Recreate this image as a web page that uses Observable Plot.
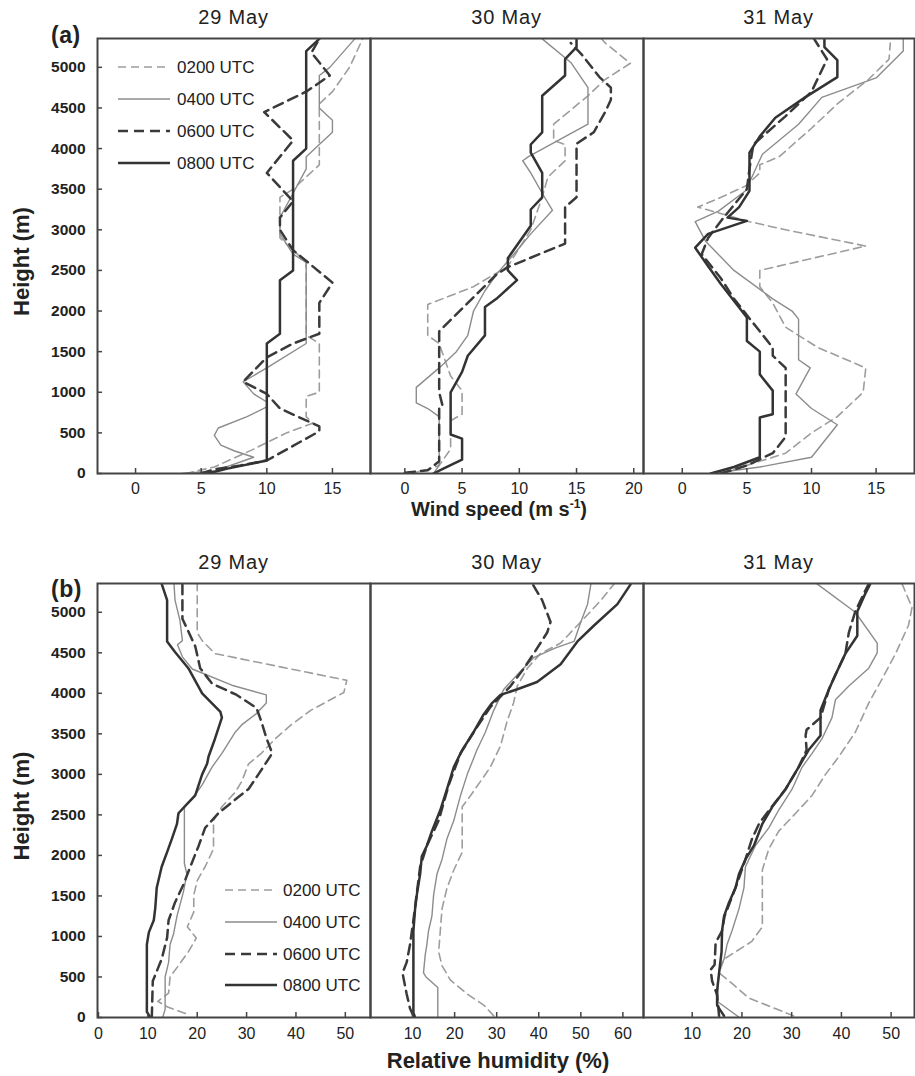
<!DOCTYPE html>
<html>
<head>
<meta charset="utf-8">
<script src="https://cdn.jsdelivr.net/npm/d3@7"></script>
<script src="https://cdn.jsdelivr.net/npm/@observablehq/plot@0.6"></script>
<style>
  body { margin: 0; background: #fff; }
  #wrap { position: relative; width: 915px; height: 1076px; background: #fff;
          font-family: "Liberation Sans", Arial, sans-serif; overflow: hidden; }
</style>
</head>
<body>
<div id="wrap"></div>
<script>
// ---------------- DATA ----------------
const SERIES = ["0200 UTC", "0400 UTC", "0600 UTC", "0800 UTC"];
const DAYS = ["29 May", "30 May", "31 May"];
const HEIGHT_TICKS = [0, 500, 1000, 1500, 2000, 2500, 3000, 3500, 4000, 4500, 5000];
const WIND_TICKS = [[0, 5, 10, 15], [0, 5, 10, 15, 20], [0, 5, 10, 15]];
const RH_TICKS = [[0, 10, 20, 30, 40, 50], [10, 20, 30, 40, 50, 60], [10, 20, 30, 40, 50]];
const WIND_DOMAINS = [[-2.9, 17.9], [-3.0, 20.85], [-3.0, 17.97]];
const RH_DOMAINS = [[-0.2, 55.1], [0, 64.9], [0.2, 54.7]];
const HEIGHT_DOMAIN = [0, 5355];

// [value, height (m)] pairs
// (a) wind speed (m s-1)
const wind_29May_0200 = [[3.8,0],[6,80],[9,300],[11.5,500],[13.5,620],[13,700],[13,950],[14,1000],[14,1600],[13,1700],[13,2600],[11,2900],[11,3400],[12,3500],[14,3800],[14,4550],[15,4700],[16.3,5000],[17.3,5350]];
const wind_29May_0400 = [[3.5,0],[6,30],[9,200],[7.5,280],[6.5,350],[6,470],[6.3,560],[8.5,700],[10,820],[10,880],[9,980],[8.2,1130],[10,1300],[13,1600],[13,2600],[12,2700],[11,2950],[11,3150],[12,3450],[13,3750],[13,3900],[14,4050],[15,4200],[15,4350],[14,4500],[14,4900],[14.8,5000],[16.7,5350]];
const wind_29May_0600 = [[5,0],[6,50],[8,100],[10,160],[14,520],[14,580],[11,800],[10,980],[8.2,1130],[10,1430],[12,1600],[14,1720],[14,2100],[15,2350],[12,2750],[11,3000],[11,3150],[12,3350],[10,3700],[12,4100],[9.8,4450],[13,4700],[14.8,4900],[13.4,5180],[14,5350]];
const wind_29May_0800 = [[5.5,0],[7,60],[10,160],[10,1600],[11,1720],[11,2380],[12,2500],[12,3850],[13,4000],[13,5200],[14,5350]];

const wind_30May_0200 = [[0.5,0],[2,50],[3,100],[4,300],[4,650],[5,730],[5,1020],[4,1200],[3,1600],[2,1700],[2,2080],[6,2300],[9,2550],[11,3000],[12,3400],[12.5,3650],[14,3850],[14,4050],[13,4100],[13,4300],[16,4650],[17.5,4850],[19.7,5050],[17.5,5300],[17.2,5350]];
const wind_30May_0400 = [[2.5,0],[3,100],[3,700],[2,800],[1,870],[1,1060],[3,1300],[4.5,1500],[5.5,1700],[6,2000],[7,2250],[8,2450],[10,2780],[11,2950],[12.9,3240],[12,3450],[11,3700],[10.3,3850],[10.8,3900],[16,4300],[16,4750],[14.5,5060],[12,5350]];
const wind_30May_0600 = [[0,10],[2,40],[3,150],[3,800],[3.3,830],[3,1000],[3,1750],[8,2450],[9,2540],[14,2830],[14,3280],[15,3400],[15,4060],[16.5,4200],[17.5,4450],[18,4600],[18,4750],[17,4880],[15.5,5150],[14.5,5300]];
const wind_30May_0800 = [[2.5,0],[3.5,70],[5,170],[5,430],[4,480],[4,1000],[5,1250],[5.5,1450],[7,1700],[7,2050],[8,2150],[9.8,2380],[9,2500],[9,2650],[11,3050],[11,3250],[12,3400],[12,3700],[11,3950],[11,4050],[12,4200],[12,4650],[14,4900],[14,5100],[15,5250],[15,5350]];

const wind_31May_0200 = [[3,0],[5,100],[8,250],[10,500],[12,700],[14,1000],[14.2,1300],[10.5,1550],[8,1800],[7,2100],[6,2300],[6,2500],[14.2,2800],[8,3000],[5.2,3100],[1.2,3280],[3,3400],[4.9,3540],[6,3700],[6,3800],[7.5,3900],[10,4250],[12,4550],[14.4,4850],[16,5100],[16.1,5300]];
const wind_31May_0400 = [[2.3,0],[6,80],[10,200],[11,400],[12,600],[10,800],[8.8,980],[9.9,1300],[9,1400],[9,1900],[8.5,2000],[7,2150],[4,2500],[1.8,2860],[1,3100],[2.8,3230],[4.9,3480],[6.2,3930],[9,4300],[10.8,4630],[15,4870],[17.1,5200],[17.1,5350]];
const wind_31May_0600 = [[3,0],[5,100],[7,250],[8,450],[8,1300],[7,1450],[7,1550],[6,1750],[4,2150],[3,2400],[1.5,2700],[2,2900],[3.2,3150],[5,3500],[5.2,3750],[5.5,4050],[8,4400],[10,4700],[11.2,5100],[10.2,5350]];
const wind_31May_0800 = [[2.2,0],[4,80],[6,200],[6,690],[7,730],[7,1020],[6,1220],[6,1500],[5,1630],[5,1920],[3,2330],[2,2550],[1,2780],[2,2950],[5,3110],[3.5,3150],[4.4,3280],[5.2,3480],[5.2,3950],[6,4150],[7.2,4380],[9.5,4630],[12,4880],[12,5090],[11,5250],[11,5350]];

// (b) relative humidity (%)
const rh_29May_0200 = [[17.6,50],[14,130],[12,200],[14.2,300],[14.5,500],[16.2,640],[18.2,810],[19.8,980],[18,1120],[19.3,1300],[19.3,1510],[20,1690],[21.6,1860],[23.3,2080],[23.3,2430],[25,2600],[27.7,2780],[29,2910],[30.4,3130],[33,3260],[35.8,3440],[39,3610],[43,3790],[49.7,4010],[50.3,4160],[23.6,4490],[21,4650],[20,4750],[20,5350]];
const rh_29May_0400 = [[13,0],[13.5,100],[13.5,500],[14.2,680],[14.5,900],[15.2,1030],[15.9,1250],[17.2,1550],[17.9,1770],[17.4,1900],[17.4,2600],[18.9,2690],[21,2870],[23,3090],[25,3260],[27.7,3520],[29,3610],[32,3750],[34,3880],[34,3980],[27,4100],[19,4300],[17,4450],[16,4600],[17,4650],[16.5,4900],[15.5,5150],[15.3,5350]];
const rh_29May_0600 = [[10.8,0],[11,450],[12.8,720],[13.9,985],[14.2,1200],[15.5,1420],[17.2,1640],[18.6,1860],[20.3,2120],[21.6,2340],[24.3,2520],[27.7,2690],[30.4,2820],[32.4,3000],[35.2,3260],[34,3450],[33,3650],[32,3820],[28,3980],[23,4120],[20.6,4310],[19.6,4580],[18,4790],[17,4920],[17,5350]];
const rh_29May_0800 = [[10.5,0],[9.8,70],[9.8,900],[10.2,1050],[11.2,1200],[11.5,1350],[11.8,1600],[12.8,1860],[13.9,2040],[14.9,2210],[15.9,2390],[16.2,2520],[18.2,2650],[19.6,2740],[21,3000],[22,3130],[22.3,3220],[23.6,3440],[25,3700],[24.7,3770],[22.6,3900],[21,4000],[18.2,4310],[15.5,4510],[13.9,4640],[13.9,5150],[12.8,5350]];

const rh_30May_0200 = [[29.3,20],[27,150],[23,290],[19,460],[17,640],[16.2,810],[16.6,1070],[17,1340],[18.2,1600],[19.8,1820],[21.8,2040],[21.8,2600],[23.8,2740],[26.1,2910],[28.5,3090],[30.9,3350],[32.5,3660],[34,3880],[34.9,4090],[37.3,4310],[40.4,4490],[45.2,4620],[51.6,4970],[54.8,5150],[57.9,5350]];
const rh_30May_0400 = [[16,0],[16,370],[13.2,500],[12.6,550],[13,770],[13.4,900],[13.8,1070],[14.6,1250],[15,1510],[15.8,1770],[17,1950],[18.2,2210],[19.8,2430],[21.4,2740],[23,3000],[25.3,3300],[27.3,3520],[29.3,3790],[31.7,4050],[34.9,4230],[38.8,4440],[44,4560],[48.4,4640],[50,4880],[51.6,5100],[52.4,5350]];
const rh_30May_0600 = [[10.2,20],[9.4,110],[8.6,290],[7.6,550],[8.6,680],[9.4,900],[10.2,1200],[11.8,1860],[13.4,2120],[16.2,2430],[18.6,2870],[21.4,3260],[24.5,3520],[28.5,3830],[30.9,3960],[33.3,4090],[36.5,4310],[38.8,4490],[42,4750],[42.8,4880],[40.8,5150],[38.5,5350]];
const rh_30May_0800 = [[10.6,0],[10.2,60],[10.2,1070],[10.6,1340],[11,1510],[11.8,1770],[12.2,1990],[13.4,2120],[14.6,2300],[16.6,2560],[18.2,2820],[19.8,3090],[21.8,3300],[24.5,3520],[26.9,3740],[28.9,3880],[30.9,3980],[34.9,4050],[39.6,4140],[45.2,4360],[49.2,4640],[53.2,4840],[58.7,5100],[61.9,5350]];

const rh_31May_0200 = [[30.4,20],[26.7,110],[21.4,240],[18,420],[15.4,550],[16.4,720],[18.7,810],[22,940],[24.1,1120],[24.1,1820],[25.4,2080],[27.4,2300],[30.8,2520],[34.1,2740],[36.8,3000],[39.5,3220],[42.8,3520],[45.5,3880],[48.2,4180],[50.9,4490],[53.5,4840],[54.2,5060],[52.2,5350]];
const rh_31May_0400 = [[19.5,0],[15,200],[15.4,590],[16.4,720],[17,900],[18,1070],[19.4,1340],[20.4,1600],[20.7,1860],[22.7,2120],[25.4,2340],[27.4,2560],[30.1,2820],[32.1,3090],[34.1,3260],[36.1,3440],[38.1,3700],[38.8,3920],[41.5,4090],[45.5,4310],[47.2,4500],[47.2,4620],[42.8,5000],[35.1,5350]];
const rh_31May_0600 = [[15.4,20],[15,280],[14,450],[13.7,590],[14.5,650],[14.7,920],[16,1070],[16.5,1250],[18.7,1600],[20.7,1950],[22,2200],[23.5,2400],[26,2600],[28.8,2820],[31.4,3090],[33,3300],[32.8,3480],[33,3550],[35.8,3700],[37.5,4050],[38.8,4230],[40.8,4490],[41.5,4750],[42.8,5010],[44.5,5230],[45.5,5350]];
const rh_31May_0800 = [[16.4,20],[15,150],[15,330],[15.4,550],[15.9,810],[16,1070],[16.4,1250],[17.4,1420],[18.7,1600],[19.4,1770],[20.7,1950],[22.4,2120],[24.1,2390],[26.1,2600],[28.8,2820],[31.4,3090],[33.4,3300],[35.8,3480],[35.8,3790],[37.5,4050],[38.8,4230],[40.8,4490],[43.2,4710],[43.2,5010],[44.8,5230],[45.8,5350]];

const WIND_PANELS = [
  [wind_29May_0200, wind_29May_0400, wind_29May_0600, wind_29May_0800],
  [wind_30May_0200, wind_30May_0400, wind_30May_0600, wind_30May_0800],
  [wind_31May_0200, wind_31May_0400, wind_31May_0600, wind_31May_0800]
];
const RH_PANELS = [
  [rh_29May_0200, rh_29May_0400, rh_29May_0600, rh_29May_0800],
  [rh_30May_0200, rh_30May_0400, rh_30May_0600, rh_30May_0800],
  [rh_31May_0200, rh_31May_0400, rh_31May_0600, rh_31May_0800]
];

// ---------------- STYLE / LAYOUT ----------------
const FONT = '"Liberation Sans", Arial, Helvetica, sans-serif';
const LINESTYLE = {
  "0200 UTC": {stroke: "#9d9d9d", strokeWidth: 1.6, strokeDasharray: "8,5"},
  "0400 UTC": {stroke: "#8c8c8c", strokeWidth: 1.4},
  "0600 UTC": {stroke: "#3a3a3a", strokeWidth: 2.5, strokeDasharray: "10,6"},
  "0800 UTC": {stroke: "#333333", strokeWidth: 2.5}
};
const COLS = [{left: 97, right: 370}, {left: 370, right: 643}, {left: 643, right: 914}];
const ROWS = [
  {top: 38, bottom: 473, panels: WIND_PANELS, ticks: WIND_TICKS, domains: WIND_DOMAINS, pad: 9,
   tag: "(a)", tagY: 43, legendYs: [67, 99, 131, 163], legendX: [118, 170, 177]},
  {top: 583, bottom: 1017, panels: RH_PANELS, ticks: RH_TICKS, domains: RH_DOMAINS, pad: 10,
   tag: "(b)", tagY: 597, legendYs: [890, 922, 954, 985], legendX: [225, 277, 283]}
];

const wrap = document.getElementById("wrap");

ROWS.forEach(row => {
  const frameH = row.bottom - row.top;
  COLS.forEach((c, ci) => {
    const frameW = c.right - c.left;
    const ml = ci === 0 ? c.left : 2;
    const mr = ci === 2 ? 1 : 2;
    const mt = 2, mb = 40;
    const table = [];
    SERIES.forEach((s, si) => row.panels[ci][si].forEach(([v, h]) => table.push({s, v, h})));
    const marks = SERIES.map(s =>
      Plot.line(table.filter(d => d.s === s), {x: "v", y: "h", ...LINESTYLE[s], clip: true, strokeLinejoin: "round"})
    );
    marks.push(Plot.tickX(row.ticks[ci], {x: d => d, insetTop: frameH - 5, stroke: "#444", strokeWidth: 1.5}));
    marks.push(Plot.axisX(row.ticks[ci], {tickSize: 0, tickPadding: row.pad, fontSize: 16, fill: "#222", label: null}));
    if (ci === 0) {
      marks.push(Plot.tickY(HEIGHT_TICKS, {y: d => d, insetRight: frameW - 5, stroke: "#444", strokeWidth: 1.5}));
      marks.push(Plot.axisY(HEIGHT_TICKS, {tickSize: 0, tickPadding: 12, tickFormat: "d", fontSize: 15.5, fontWeight: "bold", fill: "#222", label: null}));
    }
    marks.push(Plot.frame({stroke: "#444", strokeWidth: 2}));
    const svg = Plot.plot({
      width: ml + frameW + mr,
      height: mt + frameH + mb,
      marginLeft: ml, marginRight: mr, marginTop: mt, marginBottom: mb,
      x: {domain: row.domains[ci], label: null},
      y: ci === 0 ? {domain: HEIGHT_DOMAIN, label: null} : {domain: HEIGHT_DOMAIN, label: null, axis: null},
      style: {background: "transparent", overflow: "visible", fontFamily: FONT, fontSize: "16px", color: "#222"},
      marks
    });
    svg.style.position = "absolute";
    svg.style.left = (c.left - ml) + "px";
    svg.style.top = (row.top - mt) + "px";
    svg.style.maxWidth = "none";
    wrap.appendChild(svg);
  });
});

// ---------------- TEXT OVERLAY ----------------
const ov = d3.select(wrap).append("svg")
  .attr("width", 915).attr("height", 1076)
  .style("position", "absolute").style("left", "0px").style("top", "0px")
  .style("pointer-events", "none")
  .attr("font-family", FONT).attr("fill", "#222");

ROWS.forEach(row => {
  COLS.forEach((c, ci) => {
    ov.append("text").attr("x", (c.left + c.right) / 2).attr("y", row.top - 14)
      .attr("text-anchor", "middle").attr("font-size", 20).attr("letter-spacing", 0.8)
      .text(DAYS[ci]);
  });
  ov.append("text").attr("x", 51).attr("y", row.tagY)
    .attr("font-size", 23).attr("font-weight", "bold").attr("letter-spacing", 0.5).text(row.tag);
  const midY = (row.top + row.bottom) / 2 + 6;
  ov.append("text").attr("transform", `translate(29,${midY}) rotate(-90)`)
    .attr("text-anchor", "middle").attr("font-size", 22).attr("font-weight", "bold")
    .text("Height (m)");

  // legend
  const [x1, x2, tx] = row.legendX;
  SERIES.forEach((s, i) => {
    const st = LINESTYLE[s];
    const y = row.legendYs[i];
    ov.append("line").attr("x1", x1).attr("x2", x2).attr("y1", y).attr("y2", y)
      .attr("stroke", st.stroke).attr("stroke-width", st.strokeWidth)
      .attr("stroke-dasharray", st.strokeDasharray || null);
    ov.append("text").attr("x", tx).attr("y", y).attr("dy", "0.36em")
      .attr("font-size", 17).text(s);
  });
});

const wt = ov.append("text").attr("x", 499).attr("y", 516).attr("text-anchor", "middle")
  .attr("font-size", 20).attr("font-weight", "bold");
wt.append("tspan").text("Wind speed (m s");
wt.append("tspan").attr("font-size", 12).attr("dy", -8).text("-1");
wt.append("tspan").attr("dy", 8).text(")");

ov.append("text").attr("x", 498).attr("y", 1068).attr("text-anchor", "middle")
  .attr("font-size", 22).attr("font-weight", "bold").text("Relative humidity (%)");
</script>
</body>
</html>
